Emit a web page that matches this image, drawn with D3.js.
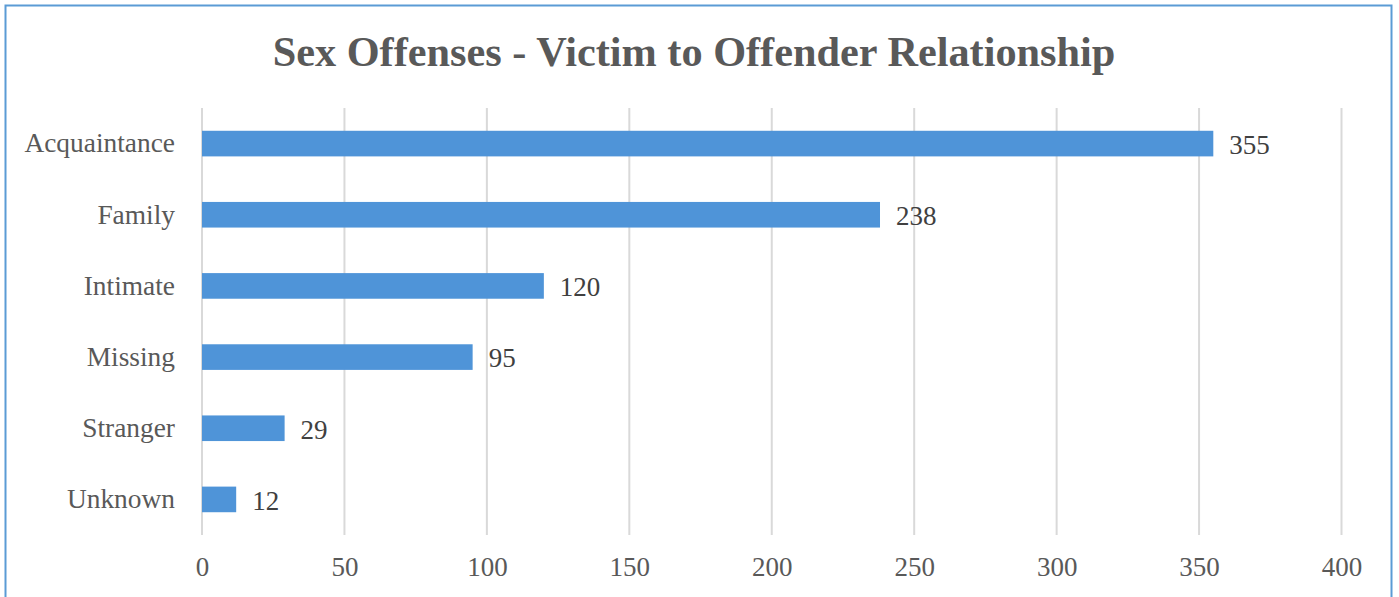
<!DOCTYPE html>
<html><head><meta charset="utf-8">
<script src="https://cdn.jsdelivr.net/npm/d3@7/dist/d3.min.js"></script>
<style>body{margin:0;background:#fff;}svg{display:block;}</style>
</head><body>
<script>
const categories = ["Acquaintance","Family","Intimate","Missing","Stranger","Unknown"];
const values = [355,238,120,95,29,12];
const ticks = [0,50,100,150,200,250,300,350,400];
const title = "Sex Offenses - Victim to Offender Relationship";

const W=1399,H=597;
const svg=d3.select("body").append("svg").attr("width",W).attr("height",H);
svg.append("rect").attr("x",5.5).attr("y",5.5).attr("width",1386).attr("height",620)
  .attr("fill","#fff").attr("stroke","#5b9bd5").attr("stroke-width",2);

const x=d3.scaleLinear().domain([0,400]).range([202,1341.5]);
const y=d3.scaleBand().domain(categories).range([108,535]).paddingInner(0.64).paddingOuter(0.32);

const font="'Liberation Serif','Times New Roman',serif";
svg.append("text").attr("x",694).attr("y",66).attr("text-anchor","middle")
  .attr("font-family",font).attr("font-weight","bold").attr("font-size",42.3)
  .attr("fill","#595959").text(title);

const g=svg.append("g");
g.selectAll("line.grid").data(ticks).enter().append("line")
  .attr("x1",d=>x(d)).attr("x2",d=>x(d)).attr("y1",108).attr("y2",535)
  .attr("stroke","#d9d9d9").attr("stroke-width",2);

const xAxis=d3.axisBottom(x).tickValues(ticks).tickSize(0).tickPadding(0);
const ax=svg.append("g").attr("transform","translate(0,0)").call(xAxis);
ax.select(".domain").remove();
ax.selectAll("text").attr("y",576).attr("dy",null).attr("font-family",font).attr("font-size",27).attr("fill","#595959");

const yAxis=d3.axisLeft(y).tickSize(0).tickPadding(0);
const ay=svg.append("g").attr("transform","translate(175,0)").call(yAxis);
ay.select(".domain").remove();
ay.selectAll("text").attr("dy","0.32em").attr("font-family",font).attr("font-size",27.4).attr("fill","#595959");

const data=categories.map((c,i)=>({c,v:values[i]}));
g.selectAll("rect.bar").data(data).enter().append("rect")
  .attr("x",x(0)).attr("y",d=>y(d.c)).attr("width",d=>x(d.v)-x(0)).attr("height",y.bandwidth())
  .attr("fill","#4f94d8");
g.selectAll("text.val").data(data).enter().append("text")
  .attr("x",d=>x(d.v)+16).attr("y",d=>y(d.c)+y.bandwidth()/2).attr("dy","0.38em")
  .attr("font-family",font).attr("font-size",27).attr("fill","#404040").text(d=>d.v);
</script>
</body></html>
